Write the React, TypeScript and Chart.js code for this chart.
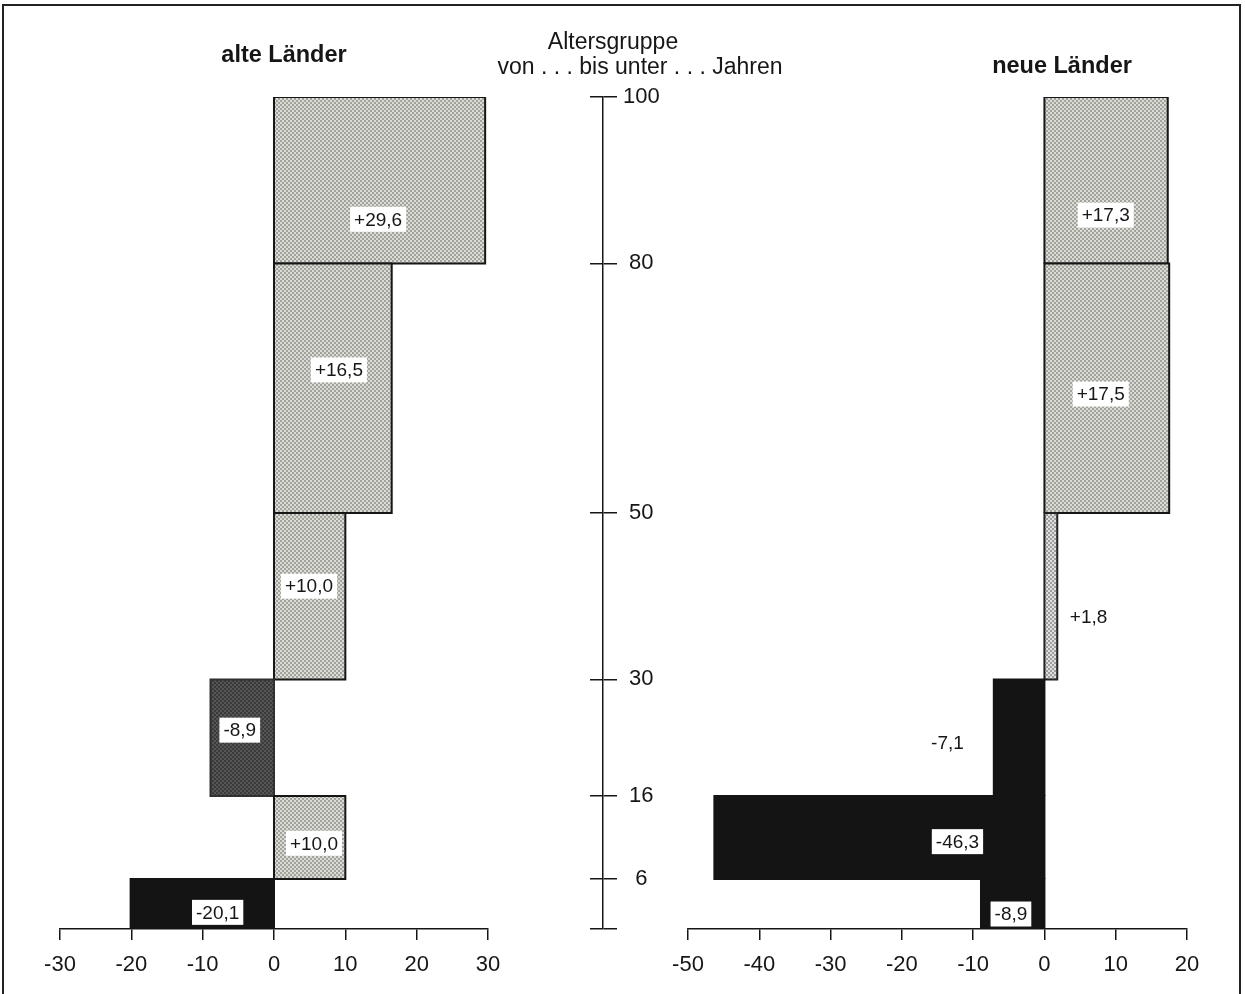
import React, { useEffect, useRef } from "react";
import { Chart, registerables } from "chart.js";

Chart.register(...registerables);

// ---------- data ----------
const ageGroupBounds = [0, 6, 16, 30, 50, 80, 100];
const ageAxisTicks = [0, 6, 16, 30, 50, 80, 100];
const alteValues = [-20.1, 10.0, -8.9, 10.0, 16.5, 29.6];
const neueValues = [-8.9, -46.3, -7.1, 1.8, 17.5, 17.3];
const alteXTicks = [-30, -20, -10, 0, 10, 20, 30];
const neueXTicks = [-50, -40, -30, -20, -10, 0, 10, 20];
const alteTitle = "alte Länder";
const neueTitle = "neue Länder";
const ageTitle1 = "Altersgruppe";
const ageTitle2 = "von . . . bis unter . . . Jahren";

// ---------- layout (label anchors in data units: [x value, age]) ----------
const alteLabelAnchors = [
  [-7.9, 2.0],
  [5.6, 10.3],
  [-4.8, 23.9],
  [4.9, 41.2],
  [9.1, 67.2],
  [14.6, 85.3],
];
const neueLabelAnchors = [
  [-4.7, 1.8],
  [-12.2, 10.5],
  [-13.6, 22.4],
  [6.2, 37.5],
  [7.9, 64.3],
  [8.6, 85.8],
];
const alteFillKinds = ["black", "light", "dark", "light", "light", "light"];
const neueFillKinds = ["black", "black", "black", "dotted", "light", "light"];

const FONT = '"Liberation Sans", Arial, Helvetica, sans-serif';
const INK = "#161616";

function fmt(v: number) {
  return (v > 0 ? "+" : "") + v.toFixed(1).replace(".", ",");
}

function makePattern(a: string, b: string, cell: number): CanvasPattern | string {
  const n = cell * 2;
  const c = document.createElement("canvas");
  c.width = n;
  c.height = n;
  const g = c.getContext("2d");
  if (!g) return a;
  for (let i = 0; i < 2; i++) {
    for (let j = 0; j < 2; j++) {
      g.fillStyle = (i + j) % 2 === 0 ? a : b;
      g.fillRect(i * cell, j * cell, cell, cell);
    }
  }
  const p = g.createPattern(c, "repeat");
  return p || a;
}

const valueLabelPlugin = {
  id: "valueLabels",
  afterDatasetsDraw(chart: any, _args: any, opts: any) {
    const { ctx } = chart;
    const x = chart.scales.x;
    const y = chart.scales.y;
    ctx.save();
    ctx.font = `19px ${FONT}`;
    ctx.textAlign = "center";
    ctx.textBaseline = "middle";
    (opts.values as number[]).forEach((v, i) => {
      const [ax, ay] = opts.anchors[i];
      const px = x.getPixelForValue(ax);
      const py = y.getPixelForValue(ay);
      const text = fmt(v);
      const w = ctx.measureText(text).width + 8;
      const h = 25;
      ctx.fillStyle = "#ffffff";
      ctx.fillRect(px - w / 2, py - h / 2, w, h);
      ctx.fillStyle = INK;
      ctx.fillText(text, px, py + 1);
    });
    ctx.restore();
  },
};

function fillFor(kind: string) {
  if (kind === "black") return { bg: "#141414", border: "#141414" };
  if (kind === "dark") return { bg: makePattern("#3a3a3a", "#565656", 2), border: "#303030" };
  if (kind === "dotted") return { bg: makePattern("#9c9c9c", "#e0e0e0", 2), border: "#222222" };
  return { bg: makePattern("#a2a29c", "#dcdcd6", 2), border: INK };
}

function panelConfig(
  values: number[],
  ticks: number[],
  kinds: string[],
  anchors: number[][],
  padLeft: number,
  padRight: number
): any {
  const datasets = values.map((v, i) => {
    const lo = ageGroupBounds[i];
    const hi = ageGroupBounds[i + 1];
    const f = fillFor(kinds[i]);
    return {
      data: [
        { x: 0, y: lo },
        { x: v, y: lo },
        { x: v, y: hi },
        { x: 0, y: hi },
        { x: 0, y: lo },
      ],
      fill: "shape",
      backgroundColor: f.bg,
      borderColor: f.border,
      borderWidth: 2,
      pointRadius: 0,
      pointHoverRadius: 0,
      tension: 0,
      borderJoinStyle: "miter",
    };
  });
  return {
    type: "line",
    data: { datasets },
    plugins: [valueLabelPlugin],
    options: {
      animation: false,
      responsive: false,
      devicePixelRatio: 1,
      events: [],
      layout: { padding: { left: padLeft, right: padRight, top: 97, bottom: 15 } },
      plugins: {
        legend: { display: false },
        tooltip: { enabled: false },
        valueLabels: { values, anchors },
      },
      scales: {
        x: {
          type: "linear",
          min: ticks[0],
          max: ticks[ticks.length - 1],
          afterBuildTicks: (s: any) => {
            s.ticks = ticks.map((value) => ({ value }));
          },
          afterFit: (s: any) => {
            s.height = 50;
          },
          ticks: {
            autoSkip: false,
            maxRotation: 0,
            color: INK,
            padding: 12,
            font: { family: FONT, size: 22 },
            callback: (v: any) => String(v),
          },
          grid: {
            drawOnChartArea: false,
            drawTicks: true,
            tickLength: 11,
            color: INK,
            lineWidth: 1.5,
          },
          border: { display: true, color: INK, width: 1.5 },
        },
        y: {
          type: "linear",
          min: 0,
          max: 100,
          display: false,
        },
      },
    },
  };
}

function axisConfig(): any {
  return {
    type: "line",
    data: { datasets: [] },
    options: {
      animation: false,
      responsive: false,
      devicePixelRatio: 1,
      events: [],
      layout: { padding: { left: 30, right: 17, top: 97, bottom: 65 } },
      plugins: { legend: { display: false }, tooltip: { enabled: false } },
      scales: {
        x: { type: "linear", min: 0, max: 1, display: false },
        y: {
          type: "linear",
          position: "right",
          min: 0,
          max: 100,
          afterBuildTicks: (s: any) => {
            s.ticks = ageAxisTicks.map((value) => ({ value }));
          },
          afterFit: (s: any) => {
            s.width = 60;
          },
          ticks: {
            autoSkip: false,
            color: INK,
            padding: 6,
            crossAlign: "center",
            font: { family: FONT, size: 22 },
            callback: (v: any) => (v === 0 ? "" : String(v)),
          },
          grid: {
            drawOnChartArea: true,
            drawTicks: true,
            tickLength: 14,
            color: INK,
            lineWidth: 1.5,
          },
          border: { display: true, color: INK, width: 1.5 },
        },
      },
    },
  };
}

function ChartCanvas(props: { config: () => any; left: number; width: number }) {
  const ref = useRef<HTMLCanvasElement | null>(null);
  useEffect(() => {
    if (!ref.current) return;
    const chart = new Chart(ref.current, props.config());
    return () => chart.destroy();
  }, []);
  return (
    <canvas
      ref={ref}
      width={props.width}
      height={994}
      style={{ position: "absolute", left: props.left, top: 0, width: props.width, height: 994 }}
    />
  );
}

const textBase: React.CSSProperties = {
  position: "absolute",
  fontFamily: FONT,
  color: INK,
  whiteSpace: "nowrap",
  transform: "translateX(-50%)",
  lineHeight: 1,
};

export default function App() {
  return (
    <div
      style={{
        position: "fixed",
        left: 0,
        top: 0,
        width: 1245,
        height: 994,
        background: "#ffffff",
        overflow: "hidden",
      }}
    >
      <div
        style={{
          position: "absolute",
          left: 2,
          top: 4,
          width: 1235,
          height: 1100,
          border: "2px solid #222",
        }}
      />
      <ChartCanvas
        left={0}
        width={560}
        config={() => panelConfig(alteValues, alteXTicks, alteFillKinds, alteLabelAnchors, 60, 72)}
      />
      <ChartCanvas left={560} width={120} config={axisConfig} />
      <ChartCanvas
        left={640}
        width={605}
        config={() => panelConfig(neueValues, neueXTicks, neueFillKinds, neueLabelAnchors, 48, 58)}
      />
      <div style={{ ...textBase, left: 284, top: 43, fontSize: 23.5, fontWeight: "bold" }}>{alteTitle}</div>
      <div style={{ ...textBase, left: 1062, top: 54, fontSize: 23.5, fontWeight: "bold" }}>{neueTitle}</div>
      <div style={{ ...textBase, left: 613, top: 30, fontSize: 23 }}>{ageTitle1}</div>
      <div style={{ ...textBase, left: 640, top: 55, fontSize: 23 }}>{ageTitle2}</div>
    </div>
  );
}
